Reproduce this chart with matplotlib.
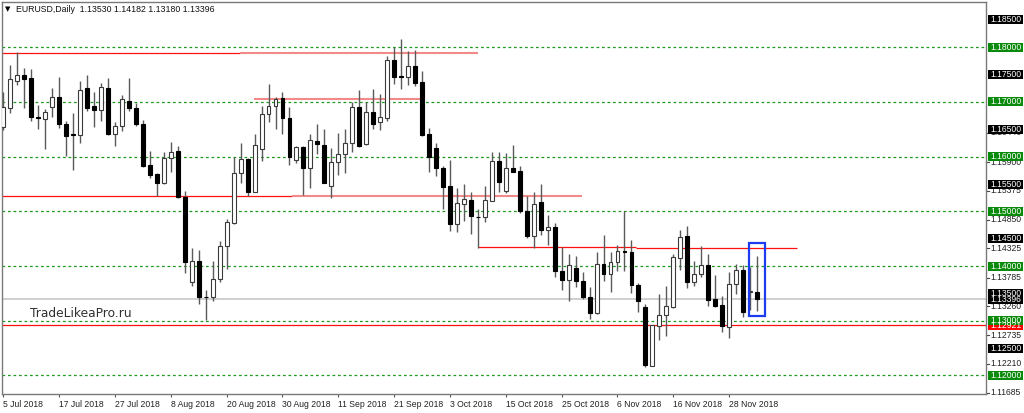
import numpy as np
import pandas as pd
import matplotlib
matplotlib.use('Agg')
from matplotlib import pyplot as plt
from matplotlib.patches import Rectangle

plt.rcParams['font.family'] = ['Liberation Sans', 'DejaVu Sans']

########################################
# data (EURUSD daily)

dates = pd.bdate_range('2018-07-05', '2018-12-04')

opens = [1.16549, 1.16896, 1.17390, 1.17494, 1.17445, 1.16720, 1.16689, 1.16902, 1.17091, 1.16591,
         1.16409, 1.16396, 1.17250, 1.16927, 1.16854, 1.17262, 1.16415, 1.16561, 1.17024, 1.16896,
         1.16591, 1.15848, 1.15677, 1.15524, 1.15970, 1.16104, 1.15256, 1.13701, 1.14098, 1.13439,
         1.13439, 1.13762, 1.14372, 1.14793, 1.15695, 1.15957, 1.15360, 1.16140, 1.16774, 1.16927,
         1.17067, 1.16701, 1.15939, 1.16171, 1.15787, 1.16287, 1.16213, 1.15470, 1.15909, 1.16049,
         1.16244, 1.16902, 1.16226, 1.16823, 1.16640, 1.16701, 1.17768, 1.17470, 1.17463, 1.17665,
         1.17372, 1.16409, 1.16165, 1.15787, 1.15463, 1.14768, 1.15134, 1.15207, 1.14902, 1.14890,
         1.15195, 1.15921, 1.15378, 1.15799, 1.15744, 1.15000, 1.14543, 1.15165, 1.14652, 1.14713,
         1.13915, 1.13750, 1.13963, 1.13732, 1.13439, 1.13140, 1.14037, 1.13860, 1.14073, 1.14268,
         1.14256, 1.13646, 1.13250, 1.12177, 1.12909, 1.13110, 1.13250, 1.14146, 1.14543, 1.13701,
         1.13854, 1.14012, 1.13402, 1.13280, 1.12878, 1.13677, 1.13933, 1.13524, 1.13530]
highs = [1.17189, 1.17677, 1.17909, 1.17616, 1.17598, 1.16945, 1.16872, 1.17262, 1.17451, 1.16652,
         1.16793, 1.17384, 1.17494, 1.17177, 1.17341, 1.17433, 1.16640, 1.17128, 1.17445, 1.16976,
         1.16671, 1.16104, 1.15695, 1.16091, 1.16274, 1.16201, 1.15372, 1.14323, 1.14293, 1.13561,
         1.14091, 1.14457, 1.14860, 1.16000, 1.16244, 1.15970, 1.16409, 1.16933, 1.17323, 1.17098,
         1.17189, 1.16915, 1.16195, 1.16195, 1.16409, 1.16591, 1.16500, 1.16152, 1.16439, 1.16500,
         1.17006, 1.17220, 1.17006, 1.17238, 1.17140, 1.17848, 1.18012, 1.18152, 1.17933, 1.17951,
         1.17567, 1.16518, 1.16244, 1.15835, 1.15939, 1.15433, 1.15494, 1.15360, 1.15043, 1.15463,
         1.16091, 1.16091, 1.16073, 1.16213, 1.15823, 1.15274, 1.15354, 1.15500, 1.14939, 1.14787,
         1.14341, 1.14226, 1.14177, 1.13890, 1.13616, 1.14256, 1.14573, 1.14256, 1.14390, 1.15000,
         1.14482, 1.13689, 1.13311, 1.12927, 1.13488, 1.13640, 1.14220, 1.14665, 1.14738, 1.14085,
         1.14360, 1.14226, 1.13841, 1.13457, 1.13890, 1.14037, 1.14012, 1.13976, 1.14182]
lows = [1.16488, 1.16793, 1.17311, 1.16896, 1.16652, 1.16506, 1.16140, 1.16720, 1.16518, 1.16018,
        1.15756, 1.16256, 1.16835, 1.16549, 1.16652, 1.16396, 1.16195, 1.16476, 1.16835, 1.16567,
        1.15805, 1.15604, 1.15287, 1.15500, 1.15726, 1.15250, 1.13866, 1.13640, 1.13299, 1.13012,
        1.13366, 1.13701, 1.13939, 1.14768, 1.15512, 1.15287, 1.15348, 1.15927, 1.16628, 1.16506,
        1.16409, 1.15848, 1.15878, 1.15299, 1.15421, 1.16043, 1.15512, 1.15250, 1.15665, 1.15695,
        1.16079, 1.16183, 1.16213, 1.16506, 1.16488, 1.16652, 1.17323, 1.17238, 1.17311, 1.17299,
        1.16384, 1.15713, 1.15652, 1.15043, 1.14640, 1.14616, 1.14829, 1.14585, 1.14335, 1.14799,
        1.15189, 1.15360, 1.15329, 1.15713, 1.14970, 1.14512, 1.14329, 1.14573, 1.14390, 1.13799,
        1.13555, 1.13366, 1.13610, 1.13402, 1.13030, 1.13128, 1.13720, 1.13518, 1.13902, 1.13915,
        1.13506, 1.13159, 1.12152, 1.12165, 1.12640, 1.12713, 1.13232, 1.13933, 1.13598, 1.13640,
        1.13799, 1.13274, 1.13250, 1.12787, 1.12683, 1.13494, 1.13067, 1.13189, 1.13180]
closes = [1.16915, 1.17415, 1.17494, 1.17421, 1.16720, 1.16707, 1.16811, 1.17098, 1.16591, 1.16384,
          1.16396, 1.17220, 1.16896, 1.16854, 1.17280, 1.16415, 1.16567, 1.17049, 1.16896, 1.16591,
          1.15835, 1.15665, 1.15524, 1.15970, 1.16091, 1.15268, 1.14079, 1.14098, 1.13439, 1.13427,
          1.13762, 1.14372, 1.14799, 1.15695, 1.15951, 1.15360, 1.16213, 1.16774, 1.16927, 1.17049,
          1.16713, 1.16000, 1.16171, 1.15799, 1.16305, 1.16226, 1.15524, 1.15909, 1.16049, 1.16244,
          1.16902, 1.16195, 1.16823, 1.16591, 1.16720, 1.17768, 1.17463, 1.17451, 1.17665, 1.17341,
          1.16396, 1.16000, 1.15799, 1.15451, 1.14768, 1.15146, 1.15226, 1.14915, 1.14896, 1.15207,
          1.15927, 1.15543, 1.15799, 1.15726, 1.15000, 1.14543, 1.15134, 1.14652, 1.14713, 1.13915,
          1.13750, 1.14012, 1.13720, 1.13427, 1.13140, 1.14037, 1.13860, 1.14073, 1.14268, 1.14256,
          1.13646, 1.13354, 1.12183, 1.12915, 1.13098, 1.13262, 1.14159, 1.14530, 1.13701, 1.13854,
          1.14012, 1.13384, 1.13274, 1.12896, 1.13677, 1.13921, 1.13159, 1.13543, 1.13396]

symbol = 'EURUSD,Daily'
last_bar = [1.13530, 1.14182, 1.13180, 1.13396]

# dotted round levels and the price scale
round_levels = [1.18, 1.17, 1.16, 1.15, 1.14, 1.13, 1.12]
box_levels = [1.185, 1.18, 1.175, 1.17, 1.165, 1.16, 1.155, 1.15, 1.145, 1.14, 1.135, 1.13, 1.125, 1.12]
scale_labels = [1.11685, 1.12210, 1.12735, 1.13260, 1.13785, 1.14325, 1.14850, 1.15375, 1.15900, 1.16440]

# drawn support/resistance lines: (price, from bar, to bar, strong)
sr_lines = [
    (1.17891, -0.2, 33.9, True),
    (1.17895, 33.9, 68.0, False),
    (1.17050, 35.9, 60.0, False),
    (1.15281, -0.2, 41.4, True),
    (1.15281, 41.4, 82.9, False),
    (1.14342, 68.0, 90.6, True),
    (1.14325, 90.6, 113.7, True),
]
red_level = 1.12921
box_rect = (106.8, 109.2, 1.13091, 1.14421)   # bars / prices of the blue frame
watermark = 'TradeLikeaPro.ru'

########################################
# figure

W, H = 1024, 413
fig = plt.figure(figsize=(W / 100, H / 100), dpi=100)
ax = fig.add_axes([2 / W, 19 / H, 984 / W, 392 / H])

x = np.arange(len(dates))
o = np.array(opens); h = np.array(highs); l = np.array(lows); c = np.array(closes)
up = c >= o

ax.vlines(x, l, h, color='#5a5a5a', lw=1.0, zorder=3)
body_lo = np.minimum(o, c)
body_h = np.maximum(np.abs(c - o), 0.00004)
ax.bar(x[up], body_h[up], bottom=body_lo[up], width=0.56, color='white',
       edgecolor='#3a3a3a', linewidth=0.8, zorder=4)
ax.bar(x[~up], body_h[~up], bottom=body_lo[~up], width=0.56, color='black',
       edgecolor='black', linewidth=0.8, zorder=4)

for lv in round_levels:
    ax.axhline(lv, color='#1f991f', lw=0.9, dashes=(2.2, 2.2), zorder=1)

for price, x0, x1, strong in sr_lines:
    if strong:
        ax.hlines(price, x0, x1, color='#ff1010', lw=0.9, zorder=2)
    else:
        ax.hlines(price, x0, x1, color='#f38a8a', lw=1.5, zorder=2)

ax.axhline(red_level, color='#ff1010', lw=0.9, zorder=2)
ax.axhline(last_bar[3], color='#cfcfcf', lw=1.4, zorder=1)

bx0, bx1, by0, by1 = box_rect
ax.add_patch(Rectangle((bx0, by0), bx1 - bx0, by1 - by0, fill=False,
                       edgecolor='#1c3cf0', lw=1.6, zorder=6))

ax.set_xlim(-0.19, 140.8)
ax.set_ylim(1.11659, 1.18829)

for s in ax.spines.values():
    s.set_color('#7a7a7a')
    s.set_linewidth(1.0)

# date axis
ticks = x[::8]
ax.set_xticks(ticks)
ax.set_xticklabels([f"{d.day} {d.strftime('%b %Y')}" for d in dates[::8]],
                   ha='left', fontsize=6.2, color='#222222')
ax.tick_params(axis='x', direction='out', length=2.5, width=0.8, color='#555555', pad=1.5)
ax.set_yticks([])

# price scale on the right
ytr = ax.get_yaxis_transform()
box_h = 9 / 5467 * 1.0
for v in scale_labels:
    ax.plot([1.0, 1.003], [v, v], color='#444444', lw=0.8, transform=ytr, clip_on=False)
    ax.text(1.0045, v, f'{v:.5f}', transform=ytr, fontsize=6.2, va='center', ha='left',
            color='#222222', clip_on=False)


def price_box(v, face, txt):
    ax.add_patch(Rectangle((1.0025, v - box_h / 2), 0.0355, box_h, transform=ytr,
                           facecolor=face, edgecolor='none', clip_on=False, zorder=7))
    ax.text(1.0045, v, txt, transform=ytr, fontsize=6.2, va='center', ha='left',
            color='white', clip_on=False, zorder=8)


price_box(last_bar[3], 'black', f'{last_bar[3]:.5f}')
price_box(red_level, '#ff0000', f'{red_level:.5f}')
for v in box_levels:
    face = '#0a8a0a' if v in round_levels else 'black'
    price_box(v, face, f'{v:.5f}')

# header and watermark
fig.text(5 / W, 1 - 9 / H, '\u25bc', fontsize=5, va='center', ha='left', family='DejaVu Sans')
fig.text(16 / W, 1 - 9 / H, symbol + '  ' + ' '.join(f'{v:.5f}' for v in last_bar),
         fontsize=6.3, va='center', ha='left', color='#111111')
ax.text(0.0285, 0.2066, watermark, transform=ax.transAxes, fontsize=8.8,
        family='DejaVu Sans', color='#303030', va='center', ha='left', zorder=5)

fig.savefig('out.png', dpi=100)
